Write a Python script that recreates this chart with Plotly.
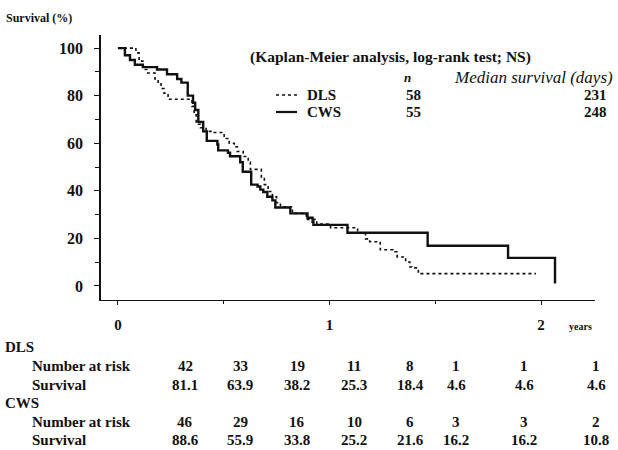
import plotly.graph_objects as go

# ---------------- data ----------------
# Kaplan-Meier step curves (time in years, survival in %)
dls_time = [0, 0.085, 0.10, 0.118, 0.137, 0.175, 0.19, 0.204, 0.218, 0.237, 0.35, 0.36, 0.37,
            0.39, 0.417, 0.45, 0.502, 0.526, 0.55, 0.564, 0.592, 0.616, 0.626, 0.678, 0.692,
            0.71, 0.73, 0.75, 0.768, 0.825, 0.89, 0.94, 1.005, 1.133, 1.17, 1.19, 1.24, 1.30,
            1.32, 1.36, 1.38, 1.39, 1.42, 1.976]
dls_surv = [100, 98, 94.5, 91, 89.5, 87, 85, 83, 81, 78.5, 75.5, 72, 68,
            66.5, 65, 64.5, 62, 60, 58.5, 56.5, 54.4, 52, 49, 45.6, 42.6,
            39.7, 37.5, 35, 33.3, 30.5, 28, 26, 24.5, 22.4, 19.8, 18.6, 15.2, 14.4,
            12.2, 10.1, 8, 7.6, 5.2, 5.2]

cws_time = [0, 0.033, 0.057, 0.08, 0.118, 0.185, 0.232, 0.28, 0.30, 0.33, 0.355, 0.365, 0.38,
            0.403, 0.42, 0.47, 0.474, 0.52, 0.53, 0.578, 0.59, 0.63, 0.66, 0.673, 0.687,
            0.706, 0.73, 0.744, 0.815, 0.896, 0.92, 0.924, 1.085, 1.464, 1.844, 2.066]
cws_surv = [100, 97, 95, 93, 92, 91, 89, 87, 85.5, 80, 77, 74, 69,
            65, 61, 59.5, 57, 56, 54.5, 52, 48, 42.6, 41.8, 40.5, 39.5,
            37.5, 36, 33, 30.5, 28.7, 27, 25.7, 22.4, 16.9, 11.8, 1]

groups = ["DLS", "CWS"]
group_n = ["58", "55"]
group_median = ["231", "248"]

y_ticks = [0, 20, 40, 60, 80, 100]
x_ticks = [0, 1, 2]

dls_at_risk = ["42", "33", "19", "11", "8", "1", "1", "1"]
dls_table_surv = ["81.1", "63.9", "38.2", "25.3", "18.4", "4.6", "4.6", "4.6"]
cws_at_risk = ["46", "29", "16", "10", "6", "3", "3", "2"]
cws_table_surv = ["88.6", "55.9", "33.8", "25.2", "21.6", "16.2", "16.2", "10.8"]

# ---------------- layout helpers (pixel -> paper) ----------------
W, H = 618, 450
L, R, T, B = 101, 23, 35, 150
PW, PH = W - L - R, H - T - B


def X(p):
    return (p - L) / PW


def Y(p):
    return (H - B - p) / PH


SERIF = "Liberation Serif"
BLACK = "#111111"

fig = go.Figure()
fig.add_trace(go.Scatter(x=dls_time, y=dls_surv, mode="lines", line_shape="hv",
                         line=dict(color=BLACK, width=1.6, dash="dot"), name="DLS",
                         showlegend=False))
fig.add_trace(go.Scatter(x=cws_time, y=cws_surv, mode="lines", line_shape="hv",
                         line=dict(color=BLACK, width=2.4), name="CWS",
                         showlegend=False))

ann = []


def text(px, py, s, size=13, anchor="center", italic=False):
    body = f"<b>{s}</b>"
    if italic:
        body = f"<i>{s}</i>"
    ann.append(dict(x=X(px), y=Y(py), xref="paper", yref="paper", text=body,
                    showarrow=False, xanchor=anchor, yanchor="middle",
                    font=dict(family=SERIF, size=size, color=BLACK)))


# axis title
text(4, 18, "Survival (%)", size=12, anchor="left")
# header
text(248, 57, "(Kaplan-Meier analysis, log-rank test; NS)", size=15.5, anchor="left")
text(407, 77, "<i>n</i>", size=13)
text(615, 77, "Median survival (days)", size=17, anchor="right", italic=True)
legend_rows = [95, 112]
for i, g in enumerate(groups):
    text(305, legend_rows[i], g, size=15, anchor="left")
    text(413, legend_rows[i], group_n[i], size=15)
    text(595, legend_rows[i], group_median[i], size=15)

shapes = [
    dict(type="line", xref="paper", yref="paper", x0=X(276), x1=X(297), y0=Y(95), y1=Y(95),
         line=dict(color=BLACK, width=1.5, dash="dot")),
    dict(type="line", xref="paper", yref="paper", x0=X(276), x1=X(297), y0=Y(112), y1=Y(112),
         line=dict(color=BLACK, width=2.2)),
]

# 'years' label
text(580, 326, "years", size=10)

# risk table
col_px = [185, 240, 297, 354, 410, 456, 524, 596]
rows = [(347, "DLS", None), (366, "Number at risk", dls_at_risk), (385, "Survival", dls_table_surv),
        (403, "CWS", None), (422, "Number at risk", cws_at_risk), (440, "Survival", cws_table_surv)]
for py, label, vals in rows:
    if vals is None:
        text(3, py, label, size=15, anchor="left")
    else:
        text(30, py, label, size=15, anchor="left")
        for cx, v in zip(col_px, vals):
            text(cx, py, v, size=15)

fig.update_layout(
    width=W, height=H,
    margin=dict(l=L, r=R, t=T, b=B),
    paper_bgcolor="white", plot_bgcolor="white",
    annotations=ann, shapes=shapes,
    font=dict(family=SERIF, color=BLACK),
    xaxis=dict(range=[-0.08, 2.255], tickvals=x_ticks,
               ticktext=[f"<b>{v}</b>" for v in x_ticks],
               showline=True, linecolor=BLACK, linewidth=1, ticks="outside", ticklen=4,
               tickcolor=BLACK, showgrid=False, zeroline=False,
               minor=dict(tickvals=[0.5, 1.5], ticks="outside", ticklen=3, tickcolor=BLACK),
               tickfont=dict(family=SERIF, size=15, color=BLACK), ticklabelstandoff=7),
    yaxis=dict(range=[-5.9, 105.5], tickvals=y_ticks,
               ticktext=[f"<b>{v}</b>" for v in y_ticks],
               showline=True, linecolor=BLACK, linewidth=1.5, ticks="outside", ticklen=5,
               tickcolor=BLACK, showgrid=False, zeroline=False,
               minor=dict(tickvals=[10, 30, 50, 70, 90], ticks="outside", ticklen=4,
                          tickcolor=BLACK),
               tickfont=dict(family=SERIF, size=16, color=BLACK), ticklabelstandoff=8),
)

fig.write_html("out.html", config={"displayModeBar": False},
               post_script="document.body.style.margin='0';")
